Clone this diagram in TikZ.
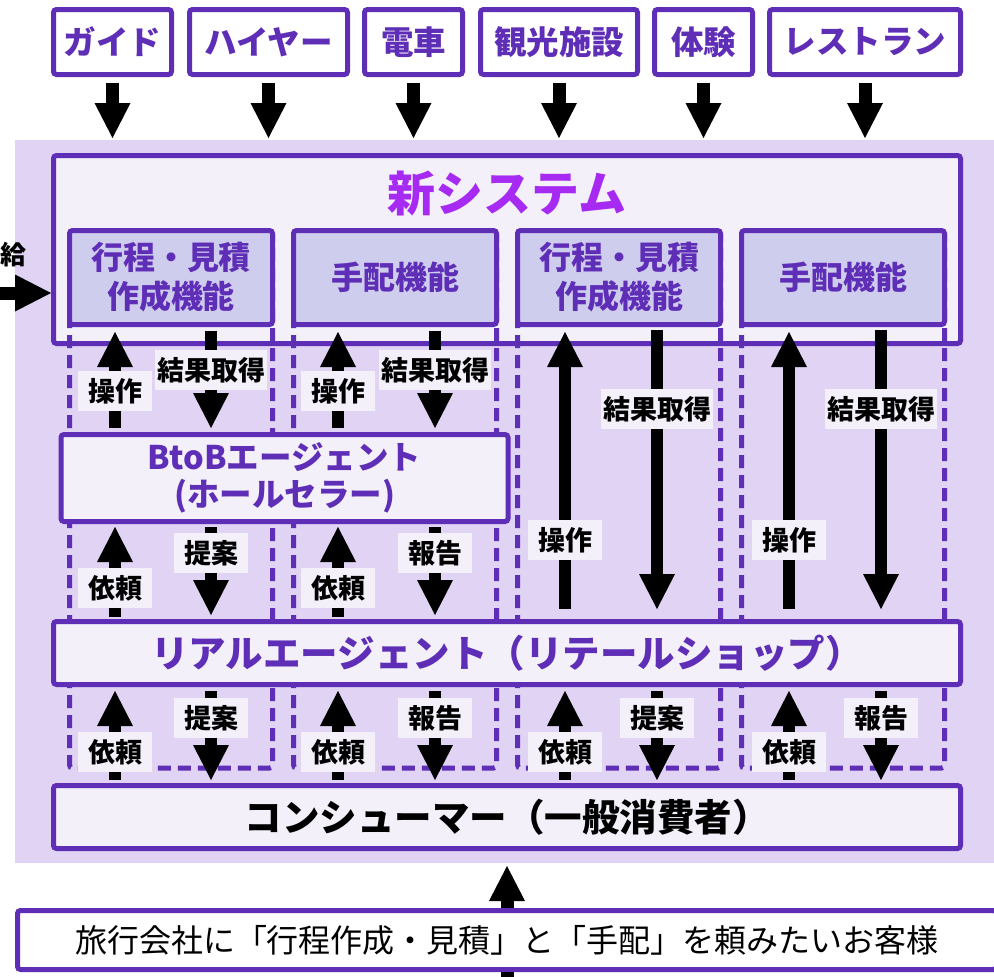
\documentclass[tikz,border=0pt]{standalone}
\usepackage{fontspec}
\setmainfont{Noto Sans CJK JP}
\usetikzlibrary{arrows.meta,calc}
\definecolor{pur}{HTML}{5F2EB7}
\definecolor{ttlc}{HTML}{A62AF2}
\definecolor{bgl}{HTML}{E0D3F4}
\definecolor{boxf}{HTML}{F3F0FA}
\definecolor{fnf}{HTML}{CFCDEE}
\tikzset{
  pbox/.style={draw=pur, line width=5pt, rounded corners=3pt, outer sep=2.5pt, inner sep=0pt},
  supbox/.style={pbox, fill=white, text=pur, minimum height=65pt, font=\bfseries\fontsize{32.5}{36}\selectfont},
  fnbox/.style={pbox, fill=fnf, text=pur, minimum width=203pt, minimum height=94pt, align=center, font=\bfseries\fontsize{32}{39}\selectfont},
  widebox/.style={pbox, fill=boxf, minimum width=907pt, minimum height=63pt, font=\bfseries\fontsize{37.5}{42}\selectfont},
  dashcol/.style={draw=pur, line width=5pt, dash pattern=on 13pt off 7pt, rounded corners=3pt},
  arr/.style={line width=11.5pt, -{Triangle[length=35pt,width=36pt,line width=0pt]}},
  lbl/.style={fill=boxf, inner xsep=2pt, inner ysep=0pt, minimum width=74pt, minimum height=40pt, font=\bfseries\fontsize{27}{30}\selectfont},
}
\begin{document}
\begin{tikzpicture}[x=1pt,y=-1pt]
\useasboundingbox (0,0) rectangle (994,977);
% background
\node[fill=bgl, inner sep=0pt, outer sep=0pt, minimum width=979pt, minimum height=723pt, anchor=north west] (bg) at (15,140) {};
% supplier boxes
\node[supbox, minimum width=118pt] (s1) at (112.5,42) {ガイド};
\node[supbox, minimum width=158pt] (s2) at (268.5,42) {ハイヤー};
\node[supbox, minimum width=98pt] (s3) at (413.5,42) {電車};
\node[supbox, minimum width=157pt] (s4) at (559,42) {観光施設};
\node[supbox, minimum width=98pt] (s5) at (703.5,42) {体験};
\node[supbox, minimum width=191pt] (s6) at (865,42) {レストラン};
% system box
\node[pbox, fill=boxf, minimum width=907pt, minimum height=188pt] (sys) at (507,249.5) {};
\node[text=ttlc, font=\bfseries\fontsize{48}{52}\selectfont] (ttl) at (507,194) {新システム};
% dashed columns
\foreach \cx in {171,395,619,843}{
  \draw[dashcol] (\cx-101.5,232) rectangle (\cx+101.5,768);
}
% function boxes
\node[fnbox] (fn1) at (171,277.5) {行程・見積\\作成機能};
\node[fnbox] (fn2) at (395,277.5) {手配機能};
\node[fnbox] (fn3) at (619,277.5) {行程・見積\\作成機能};
\node[fnbox] (fn4) at (843,277.5) {手配機能};
% agents and consumer
\node[pbox, fill=boxf, text=pur, minimum width=447pt, minimum height=87pt, align=center, font=\bfseries\fontsize{32.5}{37}\selectfont] (btob) at (284.5,478) {BtoBエージェント\\(ホールセラー)};
\node[widebox, text=pur] (ra) at (507,653) {リアルエージェント（リテールショップ）};
\node[widebox, text=black] (con) at (507,817) {コンシューマー（一般消費者）};
% customer box
\node[pbox, fill=white, minimum width=979pt, minimum height=59pt, font=\fontsize{32}{36}\selectfont] (cust) at (507,940) {旅行会社に「行程作成・見積」と「手配」を頼みたいお客様};
% left incoming
\node[anchor=west, inner sep=0pt, font=\bfseries\fontsize{26}{30}\selectfont] (kyu) at (0,255) {給};
\coordinate (lin) at (0,293);
\draw[line width=13pt, -{Triangle[length=36pt,width=37pt,line width=0pt]}] (lin) -- (lin -| sys.west);
% supplier arrows
\foreach \s in {s1,s2,s3,s4,s5,s6}{
  \draw[line width=13pt, -{Triangle[length=35pt,width=36pt,line width=0pt]}, shorten <=6pt, shorten >=15pt] (\s.south) -- (\s.south |- sys.north);
}
% column x coordinates
\coordinate (u1) at (115,0); \coordinate (d1) at (211,0);
\coordinate (u2) at (338,0); \coordinate (d2) at (435,0);
\coordinate (u3) at (565,0); \coordinate (d3) at (657,0);
\coordinate (u4) at (789,0); \coordinate (d4) at (881,0);
% columns 1 and 2
\foreach \i in {1,2}{
  \draw[arr, shorten <=4pt, shorten >=5pt] (btob.north -| u\i) -- (fn\i.south -| u\i);
  \draw[arr, shorten <=4pt, shorten >=4pt] (fn\i.south -| d\i) -- (btob.north -| d\i);
  \draw[arr, shorten <=2pt, shorten >=3pt] (ra.north -| u\i) -- (btob.south -| u\i);
  \draw[arr, shorten <=3pt, shorten >=4pt] (btob.south -| d\i) -- (ra.north -| d\i);
}
% columns 3 and 4
\foreach \i in {3,4}{
  \draw[arr, shorten <=10pt, shorten >=5pt] (ra.north -| u\i) -- (fn\i.south -| u\i);
  \draw[arr, shorten <=3pt, shorten >=10pt] (fn\i.south -| d\i) -- (ra.north -| d\i);
}
% bottom section
\foreach \i in {1,2,3,4}{
  \draw[arr, shorten <=3pt, shorten >=4pt] (con.north -| u\i) -- (ra.south -| u\i);
  \draw[arr, shorten <=4pt, shorten >=3pt] (ra.south -| d\i) -- (con.north -| d\i);
}
% customer arrow
\draw[arr, line width=13pt, shorten >=15pt] (cust.north) -- (cust.north |- con.south);
\coordinate (below) at (507,1000);
\draw[line width=13pt] (cust.south) -- (below);
% labels
\node[lbl] (l1a) at (115,391) {操作};
\node[lbl] (l1b) at (211,370) {結果取得};
\node[lbl] (l1c) at (115,588) {依頼};
\node[lbl] (l1d) at (211,553) {提案};
\node[lbl] (l1e) at (115,752) {依頼};
\node[lbl] (l1f) at (211,718) {提案};
\node[lbl] (l2a) at (338,391) {操作};
\node[lbl] (l2b) at (435,370) {結果取得};
\node[lbl] (l2c) at (338,588) {依頼};
\node[lbl] (l2d) at (435,553) {報告};
\node[lbl] (l2e) at (338,752) {依頼};
\node[lbl] (l2f) at (435,718) {報告};
\node[lbl] (l3a) at (565,540) {操作};
\node[lbl] (l3b) at (657,409) {結果取得};
\node[lbl] (l3e) at (565,752) {依頼};
\node[lbl] (l3f) at (657,718) {提案};
\node[lbl] (l4a) at (789,540) {操作};
\node[lbl] (l4b) at (881,409) {結果取得};
\node[lbl] (l4e) at (789,752) {依頼};
\node[lbl] (l4f) at (881,718) {報告};
\end{tikzpicture}
\end{document}
